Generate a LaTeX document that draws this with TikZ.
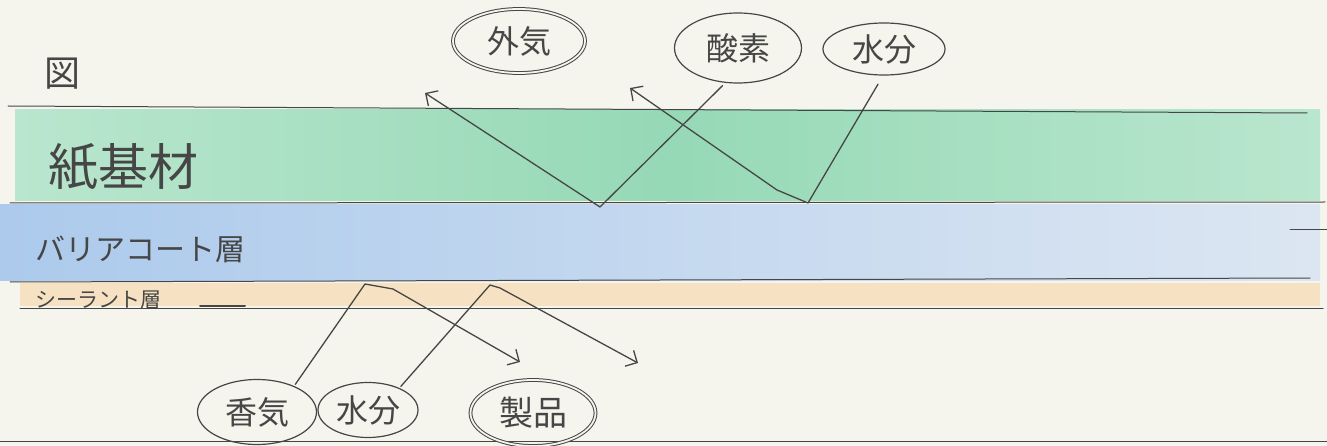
\documentclass[tikz,border=0pt]{standalone}
\usepackage{fontspec}
\newfontfamily\jp{Noto Sans CJK JP}
\usetikzlibrary{arrows.meta,shapes.geometric}
\definecolor{paper}{RGB}{245,245,237}
\definecolor{pencil}{RGB}{70,70,70}
\definecolor{greenband}{RGB}{185,230,206}
\definecolor{greendeep}{RGB}{150,217,182}
\definecolor{blueband}{RGB}{220,230,242}
\definecolor{bluedeep}{RGB}{172,202,236}
\definecolor{orangeband}{RGB}{246,226,194}
\begin{document}
\begin{tikzpicture}[x=1pt,y=-1pt,
  rule/.style={draw=pencil, line width=1pt, line cap=round},
  pen/.style={draw=pencil, line width=1.3pt, line cap=round, line join=round},
  tag/.style={ellipse, draw=pencil, line width=1.2pt, inner sep=0pt, text=pencil,
    font=\jp\fontsize{32}{34}\selectfont},
  dtag/.style={tag, double=paper, double distance=1.8pt, line width=1pt},
  lbl/.style={text=pencil, inner sep=0pt},
  arr/.style={pen, -{Straight Barb[length=9pt, width=18pt, line width=1.3pt]}}]
\useasboundingbox (0,0) rectangle (1327,446);
\fill[paper] (0,0) rectangle (1327,446);
% coloured layers
\shade[left color=greenband, right color=greenband, middle color=greendeep] (15,110) rectangle (1320,201);
\shade[left color=bluedeep, right color=blueband] (0,205) rectangle (1320,280);
\fill[orangeband] (20,283) rectangle (1320,306);
% layer lines
\draw[rule] (8,106) -- (1307,113);
\draw[rule] (10,203) -- (1325,202);
\draw[rule] (10,282) -- (1310,278);
\draw[rule] (20,308) -- (1323,308);
\draw[rule] (1290,230) -- (1327,230);
\draw[rule] (0,441) -- (1327,441);
\draw[pen, line width=2pt] (200,306) -- (245,306);
% labels
\node[lbl, font=\jp\fontsize{36}{36}\selectfont] (zu) at (62,74) {図};
\node[lbl, font=\jp\fontsize{50}{50}\selectfont] (kishi) at (123,167) {紙基材};
\node[lbl, font=\jp\fontsize{30}{30}\selectfont] (barrier) at (140,249) {バリアコート層};
\node[lbl, font=\jp\fontsize{21}{21}\selectfont] (sealant) at (98,300) {シーラント層};
% top ellipses
\node[dtag, minimum width=132pt, minimum height=64pt] (gaiki) at (519,41) {外気};
\node[tag, minimum width=127pt, minimum height=70pt] (sanso) at (738,48) {酸素};
\node[tag, minimum width=122pt, minimum height=52pt] (suibunA) at (884,49) {水分};
% bottom ellipses
\node[tag, minimum width=119pt, minimum height=65pt] (kouki) at (257,412) {香気};
\node[tag, minimum width=100pt, minimum height=55pt] (suibunB) at (368,410) {水分};
\node[dtag, minimum width=125pt, minimum height=66pt, font=\jp\fontsize{34}{36}\selectfont] (seihin) at (533,413) {製品};
% top connectors
\coordinate (v1) at (600,207);
\coordinate (t1) at (425,93);
\coordinate (v2) at (808,203);
\coordinate (k2) at (777,190);
\coordinate (t2) at (630,88);
\draw[arr, shorten <=4pt] (sanso.250) -- (v1) -- (t1);
\draw[arr, shorten <=10pt] (suibunA.268) -- (v2) -- (k2) -- (t2);
% bottom connectors
\coordinate (v3) at (365,284);
\coordinate (k3) at (393,289);
\coordinate (t3) at (520,362);
\coordinate (v4) at (490,285);
\coordinate (k4) at (500,288);
\coordinate (t4) at (638,363);
\draw[arr, shorten <=2pt] (kouki.35) -- (v3) -- (k3) -- (t3);
\draw[arr, shorten <=2pt] (suibunB.35) -- (v4) -- (k4) -- (t4);
\end{tikzpicture}
\end{document}
